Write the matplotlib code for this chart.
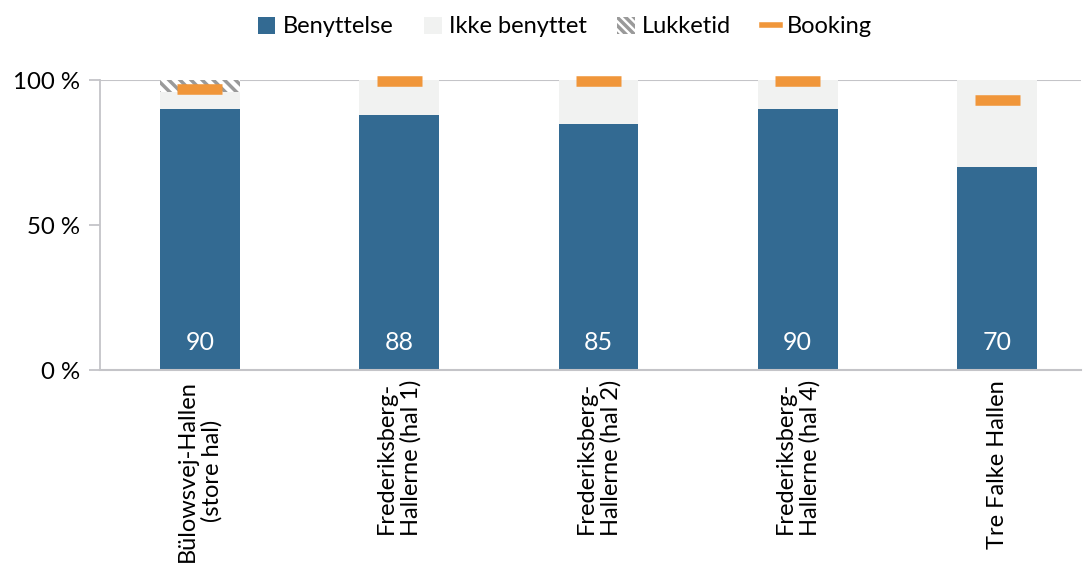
import numpy as np
import matplotlib
matplotlib.use("Agg")
import matplotlib.pyplot as plt
from matplotlib.patches import Patch
from matplotlib.lines import Line2D

plt.rcParams['font.family'] = ['Lato', 'DejaVu Sans']
plt.rcParams['hatch.color'] = '#9a9a9a'
plt.rcParams['hatch.linewidth'] = 2.5

# data
haller = ['Bülowsvej-Hallen\n(store hal)', 'Frederiksberg-\nHallerne (hal 1)',
          'Frederiksberg-\nHallerne (hal 2)', 'Frederiksberg-\nHallerne (hal 4)',
          'Tre Falke Hallen']
benyttelse = [90, 88, 85, 90, 70]
lukketid = [4, 0, 0, 0, 0]
ikke_benyttet = [100 - b - l for b, l in zip(benyttelse, lukketid)]
booking = [97, 99.8, 99.8, 99.8, 93.3]

blaa = '#336a92'
lysgraa = '#f1f2f1'
orange = '#f0963a'
akse = '#c4c4c8'

fig = plt.figure(figsize=(10.84, 5.72), dpi=100)
ax = fig.add_axes([0.092, 0.353, 0.905, 0.507])

x = np.arange(len(haller))
w = 0.40
ax.bar(x, benyttelse, w, color=blaa, zorder=2)
ax.bar(x, ikke_benyttet, w, bottom=benyttelse, color=lysgraa, zorder=2)
bund = [b + i for b, i in zip(benyttelse, ikke_benyttet)]
ax.bar(x, lukketid, w, bottom=bund, color='white', hatch='\\\\\\', edgecolor='#9a9a9a',
       linewidth=0, zorder=2)
# booking-markører
for xi, bk in zip(x, booking):
    ax.plot([xi - 0.113, xi + 0.113], [bk, bk], color=orange, lw=7.6,
            solid_capstyle='butt', zorder=4, clip_on=False)

for xi, b in zip(x, benyttelse):
    ax.text(xi, 9.5, str(b), ha='center', va='center', color='white', fontsize=18, zorder=5)

ax.set_xlim(-0.502, 4.42)
ax.set_ylim(0, 100)
ax.set_yticks([0, 50, 100])
ax.set_yticklabels(['0 %', '50 %', '100 %'], fontsize=17.3)
ax.axhline(100, color=akse, lw=1.5, zorder=1)
ax.set_xticks(x)
ax.set_xticklabels(haller, rotation=90, fontsize=17, linespacing=1.18, va='top')
ax.tick_params(axis='x', length=0, pad=7)
ax.tick_params(axis='y', length=8, width=1.3, color=akse, pad=6)
for s in ['top', 'right']:
    ax.spines[s].set_visible(False)
ax.spines['left'].set_color(akse)
ax.spines['bottom'].set_color(akse)
ax.spines['left'].set_linewidth(1.3)
ax.spines['bottom'].set_linewidth(1.5)

handles = [Patch(facecolor=blaa, label='Benyttelse'),
           Patch(facecolor=lysgraa, label='Ikke benyttet'),
           Patch(facecolor='white', hatch='\\\\\\\\', edgecolor='#9a9a9a', linewidth=0, label='Lukketid'),
           Line2D([], [], color=orange, lw=4, label='Booking')]
fig.legend(handles=handles, loc='center', bbox_to_anchor=(0.521, 0.953), ncol=4,
           frameon=False, fontsize=17, handlelength=0.75, handleheight=0.75,
           handletextpad=0.3, columnspacing=1.3)

fig.savefig('out.png', dpi=100)
